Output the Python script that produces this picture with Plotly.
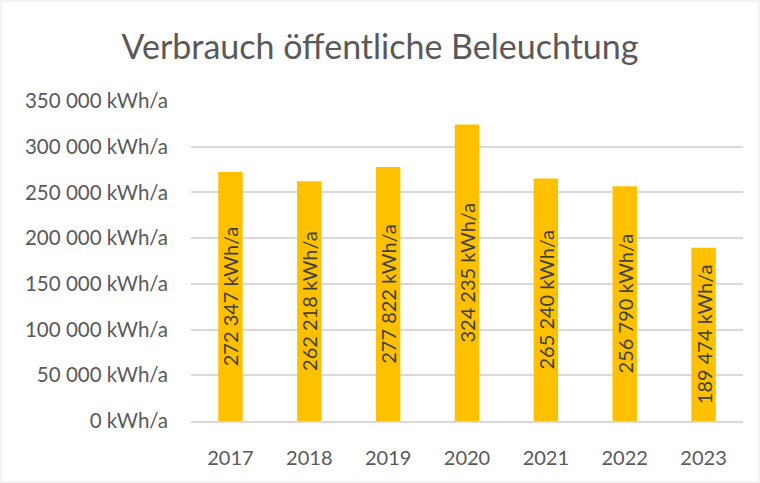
import plotly.graph_objects as go

years = ["2017", "2018", "2019", "2020", "2021", "2022", "2023"]
values = [272347, 262218, 277822, 324235, 265240, 256790, 189474]
y_ticks = [0, 50000, 100000, 150000, 200000, 250000, 300000, 350000]

labels = [f"{v:,}".replace(",", " ") + " kWh/a" for v in values]
tick_text = [f"{t:,}".replace(",", " ") + " kWh/a" for t in y_ticks]

FONT = "Lato, Carlito, Calibri, sans-serif"

fig = go.Figure(go.Bar(
    x=years, y=values, text=labels,
    textposition="inside", insidetextanchor="middle", textangle=-90,
    textfont=dict(family=FONT, size=20, color="#404040"),
    marker=dict(color="#ffc000", line=dict(width=0)),
    constraintext="none", cliponaxis=False,
))

fig.update_layout(
    width=760, height=483,
    paper_bgcolor="white", plot_bgcolor="white",
    margin=dict(l=191, r=17, t=101, b=62),
    bargap=0.69,
    showlegend=False,
    title=dict(text="Verbrauch öffentliche Beleuchtung", x=0.5, xanchor="center",
               y=1 - 47 / 483, yanchor="middle",
               font=dict(family=FONT, size=34, color="#595959")),
    font=dict(family=FONT, color="#595959"),
)
fig.update_yaxes(range=[0, 350000], tickvals=y_ticks, ticktext=tick_text,
                 showgrid=True, gridcolor="#d9d9d9", gridwidth=1.5,
                 zeroline=False, showline=False, ticks="", ticklabelstandoff=22,
                 tickfont=dict(family=FONT, size=20.5, color="#595959"))
fig.update_xaxes(showgrid=False, showline=True, linecolor="#d9d9d9", linewidth=1.5,
                 ticks="", ticklabelstandoff=18,
                 tickfont=dict(family=FONT, size=20, color="#595959"))
fig.add_shape(type="rect", xref="paper", yref="paper",
              x0=-190/552, x1=1+16/552, y0=-61/320, y1=1+100/320,
              line=dict(color="#e6e6e6", width=1))

fig.write_html("out.html", config={"displayModeBar": False})
with open("out.html", encoding="utf-8") as f:
    html = f.read()
html = html.replace("<body>", '<body style="margin:0;padding:0">', 1)
with open("out.html", "w", encoding="utf-8") as f:
    f.write(html)
